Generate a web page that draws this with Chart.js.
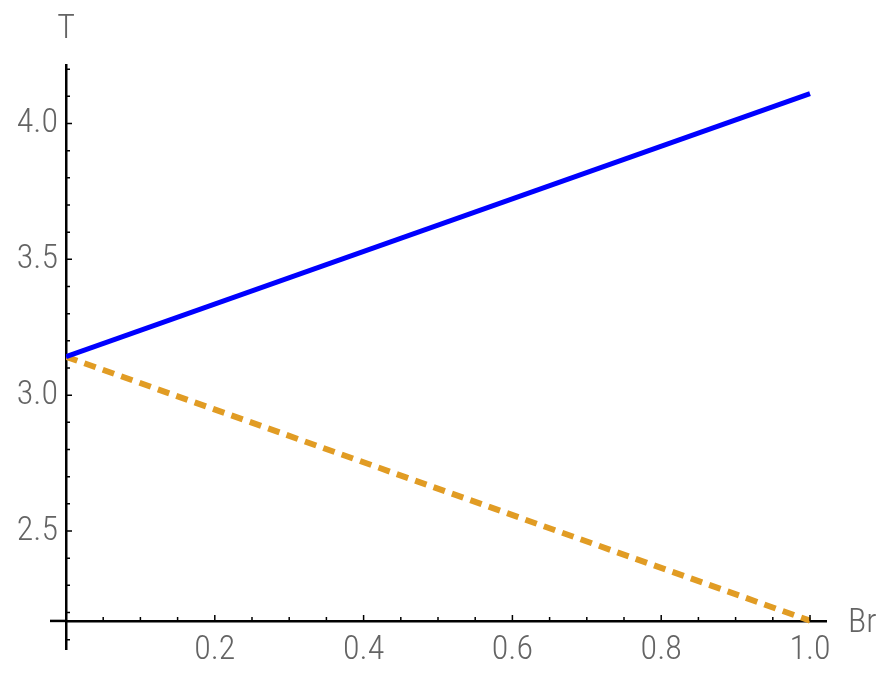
<!DOCTYPE html>
<html>
<head>
<meta charset="utf-8">
<script src="https://cdn.jsdelivr.net/npm/chart.js@4/dist/chart.umd.min.js"></script>
<style>
html,body{margin:0;padding:0;background:#fff;}
#wrap{width:888px;height:680px;}
</style>
</head>
<body>
<div id="wrap"><canvas id="c" width="888" height="680"></canvas></div>
<script>
// Data
const brValues = [0, 1];
const seriesSolid = [3.1416, 4.11];
const seriesDashed = [3.1416, 2.17];
const xTickLabels = [0.2, 0.4, 0.6, 0.8, 1.0];
const yTickLabels = [2.5, 3.0, 3.5, 4.0];
const xAxisCrossing = 2.169;
const xTitle = 'Br';
const yTitle = 'T';

const FONT = "'Roboto Condensed', 'Open Sans', sans-serif";
const LABEL_COLOR = '#646464';

const tickPlugin = {
  id: 'mmaTicks',
  afterDraw(chart) {
    const {ctx} = chart;
    const xs = chart.scales.x, ys = chart.scales.y;
    const x0 = xs.getPixelForValue(0);
    const y0 = ys.getPixelForValue(xAxisCrossing);
    ctx.save();
    // short extension of the horizontal axis to the left of the vertical axis
    ctx.strokeStyle = '#000';
    ctx.lineWidth = 2.5;
    ctx.beginPath();
    ctx.moveTo(x0 - 16, y0); ctx.lineTo(x0, y0);
    ctx.stroke();
    ctx.lineWidth = 1.5;
    ctx.beginPath();
    for (let i = 21; i <= 42; i++) {
      const py = ys.getPixelForValue(i / 10);
      const len = (i % 5 === 0) ? 6 : 4;
      ctx.moveTo(x0, py); ctx.lineTo(x0 + len, py);
    }
    for (let i = 1; i <= 20; i++) {
      const px = xs.getPixelForValue(i / 20);
      const len = (i % 4 === 0) ? 6 : 4;
      ctx.moveTo(px, y0); ctx.lineTo(px, y0 - len);
    }
    ctx.stroke();
    // axis titles
    ctx.fillStyle = LABEL_COLOR;
    ctx.font = "300 34px " + FONT;
    ctx.textAlign = 'center';
    ctx.textBaseline = 'alphabetic';
    ctx.fillText(yTitle, x0, 38);
    ctx.textAlign = 'left';
    ctx.fillText(xTitle, xs.right + 22, y0 + 11);
    ctx.restore();
  }
};

const ctx = document.getElementById('c').getContext('2d');
new Chart(ctx, {
  type: 'line',
  data: {
    datasets: [
      {
        data: brValues.map((b, i) => ({x: b, y: seriesSolid[i]})),
        borderColor: '#0000FF',
        borderWidth: 5,
        pointRadius: 0,
        fill: false,
        tension: 0
      },
      {
        data: brValues.map((b, i) => ({x: b, y: seriesDashed[i]})),
        borderColor: '#E19C24',
        borderWidth: 6,
        borderDash: [12, 7.5],
        borderCapStyle: 'butt',
        pointRadius: 0,
        fill: false,
        tension: 0
      }
    ]
  },
  options: {
    responsive: false,
    animation: false,
    events: [],
    layout: {padding: {left: 0, right: 62, top: 65, bottom: 31}},
    plugins: {legend: {display: false}, tooltip: {enabled: false}, title: {display: false}},
    scales: {
      x: {
        type: 'linear',
        position: {y: xAxisCrossing},
        min: 0,
        max: 1.0215,
        afterBuildTicks: (s) => { s.ticks = xTickLabels.map(v => ({value: v})); },
        ticks: {
          color: LABEL_COLOR,
          font: {family: FONT, size: 34, weight: '300'},
          padding: 9,
          maxRotation: 0,
          autoSkip: false,
          callback: (v) => Number(v).toFixed(1)
        },
        grid: {display: false, drawTicks: false},
        border: {display: true, color: '#000', width: 2.5}
      },
      y: {
        type: 'linear',
        position: 'left',
        min: 2.0657,
        max: 4.2153,
        afterFit: (s) => { s.width = 66; },
        afterBuildTicks: (s) => { s.ticks = yTickLabels.map(v => ({value: v})); },
        ticks: {
          color: LABEL_COLOR,
          font: {family: FONT, size: 34, weight: '300'},
          padding: 8,
          autoSkip: false,
          callback: (v) => Number(v).toFixed(1)
        },
        grid: {display: false, drawTicks: false},
        border: {display: true, color: '#000', width: 2.5}
      }
    }
  },
  plugins: [tickPlugin]
});
</script>
</body>
</html>
